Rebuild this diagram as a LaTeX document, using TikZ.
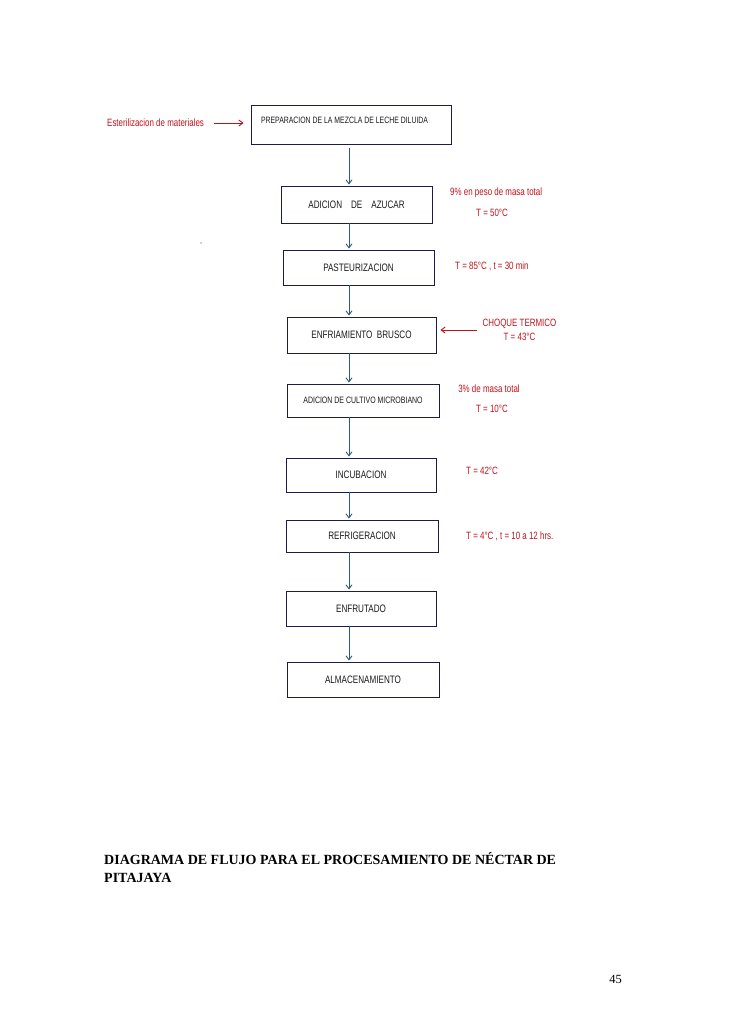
\documentclass[tikz,border=0pt]{standalone}
\usepackage{fontspec}
\setmainfont{Liberation Serif}
\newfontfamily\narrowsans[FakeStretch=0.75]{Liberation Sans}
\usepackage{xcolor}
\definecolor{boxline}{HTML}{1C1C4A}
\definecolor{flowblue}{HTML}{2F5B7A}
\definecolor{notered}{HTML}{C0141C}
\definecolor{boxtext}{HTML}{1A1A1A}
\usepackage{tikz}
\usetikzlibrary{positioning, arrows.meta, calc}
\tikzset{
    box/.style = {draw=boxline, line width=0.9pt, fill=white, inner sep=0pt,
                  text=boxtext, font=\narrowsans\fontsize{10.8}{12}\selectfont},
    note/.style = {text=notered, inner sep=0pt,
                   font=\narrowsans\fontsize{10.6}{12}\selectfont},
    titletext/.style = {anchor=base west, inner sep=0pt,
                        font=\bfseries\fontsize{14}{16}\selectfont},
    arrow/.style = {-{Straight Barb[length=4pt, width=6pt]}, line width=0.9pt, color=flowblue},
    redarrow/.style = {-{Straight Barb[length=4pt, width=6pt]}, line width=0.9pt, color=notered},
}

\begin{document}
\begin{tikzpicture}[x=1pt, y=-1pt]
        \useasboundingbox (0,0) rectangle (728,1030);
        \fill[white] (0,0) rectangle (728,1030);
        % process boxes
        \node[box, minimum width=200, minimum height=39] (prep) at (351,124.5) {};
        \node[box, draw=none, fill=none, anchor=west, font=\narrowsans\fontsize{9.2}{11}\selectfont]
              (preptext) at ([xshift=10pt, yshift=4.5pt]prep.west)
              {PREPARACION DE LA MEZCLA DE LECHE DILUIDA};
        \node[box, minimum width=151, minimum height=37] (azucar) at (356.5,204.5)
              {ADICION\hspace{9pt}DE\hspace{9pt}AZUCAR};
        \node[box, minimum width=151, minimum height=35] (pasteur) at (358.5,267.5) {PASTEURIZACION};
        \node[box, minimum width=149, minimum height=36] (enfria) at (361.5,335)
              {ENFRIAMIENTO\ \ BRUSCO};
        \node[box, minimum width=152, minimum height=33, font=\narrowsans\fontsize{9.3}{11}\selectfont]
              (cultivo) at (363,400.5) {ADICION DE CULTIVO MICROBIANO};
        \node[box, minimum width=150, minimum height=34] (incuba) at (361,475) {INCUBACION};
        \node[box, minimum width=152, minimum height=32] (refri) at (362,536) {REFRIGERACION};
        \node[box, minimum width=150, minimum height=35] (enfruta) at (361,608.5) {ENFRUTADO};
        \node[box, minimum width=152, minimum height=35] (almacen) at (363,679.5) {ALMACENAMIENTO};
        % flow arrows
        \coordinate (spine) at (349,0);
        \draw[arrow, shorten <=4pt, shorten >=1pt] (prep.south -| spine) -- (azucar.north -| spine);
        \foreach \a/\b in {azucar/pasteur, pasteur/enfria, enfria/cultivo, cultivo/incuba,
                           incuba/refri, refri/enfruta, enfruta/almacen}
            \draw[arrow, shorten >=1pt] (\a.south -| spine) -- (\b.north -| spine);
        % side notes
        \node[note, anchor=west] (ester) at (107,123) {Esterilizacion de materiales};
        \draw[redarrow, shorten <=10pt, shorten >=7pt] (ester.east) -- (prep.west |- ester.east);
        \node[note, anchor=west] (peso) at (450,193) {9\% en peso de masa total};
        \node[note, anchor=west] (temp50) at (476,213) {T = 50°C};
        \node[note, anchor=west] (temp85) at (455,266) {T = 85°C , t = 30 min};
        \node[note, align=center, font=\narrowsans\fontsize{10.6}{14}\selectfont]
              (choque) at (519.5,330) {CHOQUE TERMICO\\T = 43°C};
        \draw[redarrow, shorten <=5pt, shorten >=4pt] (choque.west) -- (enfria.east |- choque.west);
        \node[note] (masa3) at (489,389) {3\% de masa total};
        \node[note] (temp10) at (492,409) {T = 10°C};
        \node[note, anchor=west] (temp42) at (466,471) {T = 42°C};
        \node[note, anchor=west] (temp4) at (466,536) {T = 4°C , t = 10 a 12 hrs.};
        \fill[black!70] (201,243) circle (0.7);
        % caption and page number
        \node[titletext] (title1) at (104,864.5)
              {DIAGRAMA DE FLUJO PARA EL PROCESAMIENTO DE NÉCTAR DE};
        \node[titletext] (title2) at ([yshift=-18pt]title1.base west) {PITAJAYA};
        \node[anchor=base, inner sep=0pt, font=\fontsize{12.5}{14}\selectfont] (pagenum) at (615.5,983) {45};
      \end{tikzpicture}
\end{document}
